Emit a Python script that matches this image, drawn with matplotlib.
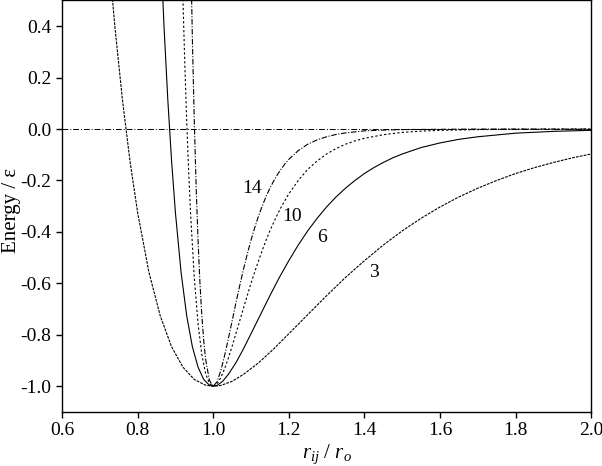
import matplotlib
matplotlib.use('Agg')
import matplotlib.pyplot as plt

plt.rcParams['font.family'] = ['Liberation Serif', 'DejaVu Serif']
plt.rcParams['mathtext.fontset'] = 'custom'
plt.rcParams['mathtext.rm'] = 'Liberation Serif'
plt.rcParams['mathtext.it'] = 'Liberation Serif:italic'

# curve "3"
r3 = [0.72, 0.74, 0.76, 0.78, 0.80, 0.83, 0.86, 0.89, 0.92, 0.95, 0.98, 1.00, 1.02, 1.05,
      1.08, 1.12, 1.16, 1.20, 1.25, 1.30, 1.35, 1.40, 1.45, 1.50, 1.55, 1.60, 1.65, 1.70, 1.75,
      1.80, 1.85, 1.90, 1.95, 2.00]
e3 = [0.733, 0.396, 0.112, -0.126, -0.324, -0.557, -0.727, -0.847, -0.926, -0.974, -0.996, -1.0, -0.997, -0.981,
      -0.954, -0.909, -0.855, -0.796, -0.722, -0.648, -0.577, -0.512, -0.451, -0.396, -0.347, -0.303, -0.264, -0.230, -0.200,
      -0.173, -0.150, -0.130, -0.112, -0.097]

# curve "6"
r6 = [0.86, 0.87, 0.88, 0.89, 0.90, 0.915, 0.93, 0.945, 0.96, 0.975, 0.99, 1.00, 1.01, 1.025, 1.04, 1.06,
      1.08, 1.10, 1.125, 1.15, 1.175, 1.20, 1.225, 1.25, 1.275, 1.30, 1.325, 1.35, 1.375, 1.40, 1.425, 1.45,
      1.475, 1.50, 1.55, 1.60, 1.65, 1.70, 1.80, 1.90, 2.00]
e6 = [0.733, 0.396, 0.112, -0.126, -0.324, -0.557, -0.727, -0.847, -0.926, -0.974, -0.996, -1.0, -0.997, -0.981, -0.954, -0.909,
      -0.855, -0.796, -0.722, -0.648, -0.577, -0.512, -0.451, -0.396, -0.347, -0.303, -0.264, -0.230, -0.200, -0.173, -0.150, -0.130,
      -0.112, -0.097, -0.072, -0.054, -0.040, -0.030, -0.016, -0.009, -0.005]

# curve "10"
r10 = [0.915, 0.92, 0.925, 0.93, 0.935, 0.94, 0.95, 0.96, 0.97, 0.98, 0.99, 1.00, 1.01, 1.02, 1.03, 1.04, 1.05, 1.06,
       1.08, 1.09, 1.10, 1.11, 1.12, 1.13, 1.14, 1.15, 1.16, 1.17, 1.18, 1.19, 1.20, 1.225, 1.25, 1.275, 1.30,
       1.325, 1.35, 1.375, 1.40, 1.45, 1.50, 1.55, 1.60, 1.70, 1.80, 2.00]
e10 = [0.795, 0.502, 0.248, 0.028, -0.162, -0.324, -0.579, -0.758, -0.878, -0.951, -0.989, -1.0, -0.991, -0.967, -0.933, -0.891, -0.845, -0.796,
       -0.697, -0.648, -0.600, -0.555, -0.512, -0.471, -0.432, -0.396, -0.363, -0.332, -0.303, -0.277, -0.252, -0.200, -0.157, -0.124, -0.097,
       -0.076, -0.059, -0.046, -0.036, -0.022, -0.013, -0.008, -0.005, -0.002, -0.001, 0.0]

# curve "14"
r14 = [0.94, 0.945, 0.95, 0.955, 0.96, 0.965, 0.97, 0.975, 0.98, 0.99, 1.00, 1.01, 1.02, 1.03, 1.04, 1.05, 1.06, 1.07,
       1.08, 1.09, 1.10, 1.11, 1.12, 1.13, 1.14, 1.15, 1.16, 1.17, 1.18, 1.19, 1.20, 1.225, 1.25, 1.275, 1.30,
       1.325, 1.35, 1.40, 1.45, 1.50, 1.70, 2.00]
e14 = [0.733, 0.345, 0.028, -0.230, -0.436, -0.600, -0.727, -0.824, -0.896, -0.977, -1.0, -0.983, -0.940, -0.882, -0.816, -0.747, -0.677, -0.610,
       -0.546, -0.487, -0.432, -0.383, -0.338, -0.298, -0.262, -0.230, -0.202, -0.177, -0.155, -0.135, -0.118, -0.084, -0.059, -0.042, -0.030,
       -0.021, -0.015, -0.007, -0.004, -0.002, 0.0, 0.0]

labels = ['3', '6', '10', '14']
label_pos = [(1.426, -0.559), (1.288, -0.422), (1.208, -0.340), (1.102, -0.230)]

fig = plt.figure(figsize=(6.02, 4.66), dpi=100)
ax = fig.add_axes([0.103, 0.116, 0.879, 0.883])

ax.axhline(0.0, color='black', lw=0.7, linestyle=(0, (6, 2, 1, 2)))
ax.plot(r3, e3, color='black', lw=0.8, linestyle=(0, (2.5, 1)))
ax.plot(r6, e6, color='black', lw=0.8, linestyle='-')
ax.plot(r10, e10, color='black', lw=0.8, linestyle=(0, (2, 2)))
ax.plot(r14, e14, color='black', lw=0.8, linestyle=(0, (5, 1.5, 1, 1.5)))

for lab, (x, y) in zip(labels, label_pos):
    ax.text(x, y, lab, fontsize=14, ha='center', va='center')

ax.set_xlim(0.6, 2.0)
ax.set_ylim(-1.1, 0.5)
ax.set_xticks([0.6, 0.8, 1.0, 1.2, 1.4, 1.6, 1.8, 2.0])
ax.set_yticks([-1.0, -0.8, -0.6, -0.4, -0.2, 0.0, 0.2, 0.4])
ax.set_xticklabels(['0.6', '0.8', '1.0', '1.2', '1.4', '1.6', '1.8', '2.0'])
ax.set_yticklabels(['-1.0', '-0.8', '-0.6', '-0.4', '-0.2', '0.0', '0.2', '0.4'])
ax.tick_params(direction='out', length=4, width=1, labelsize=14, top=False, right=False)
for s in ax.spines.values():
    s.set_linewidth(1.0)

ax.set_xlabel(r'$r_{ij}$ / $r_o$', fontsize=15, labelpad=2)
ax.set_ylabel('Energy / ε', fontsize=15, va='center')
ax.yaxis.set_label_coords(-0.095, 0.49)

fig.savefig('out.png', dpi=100)
